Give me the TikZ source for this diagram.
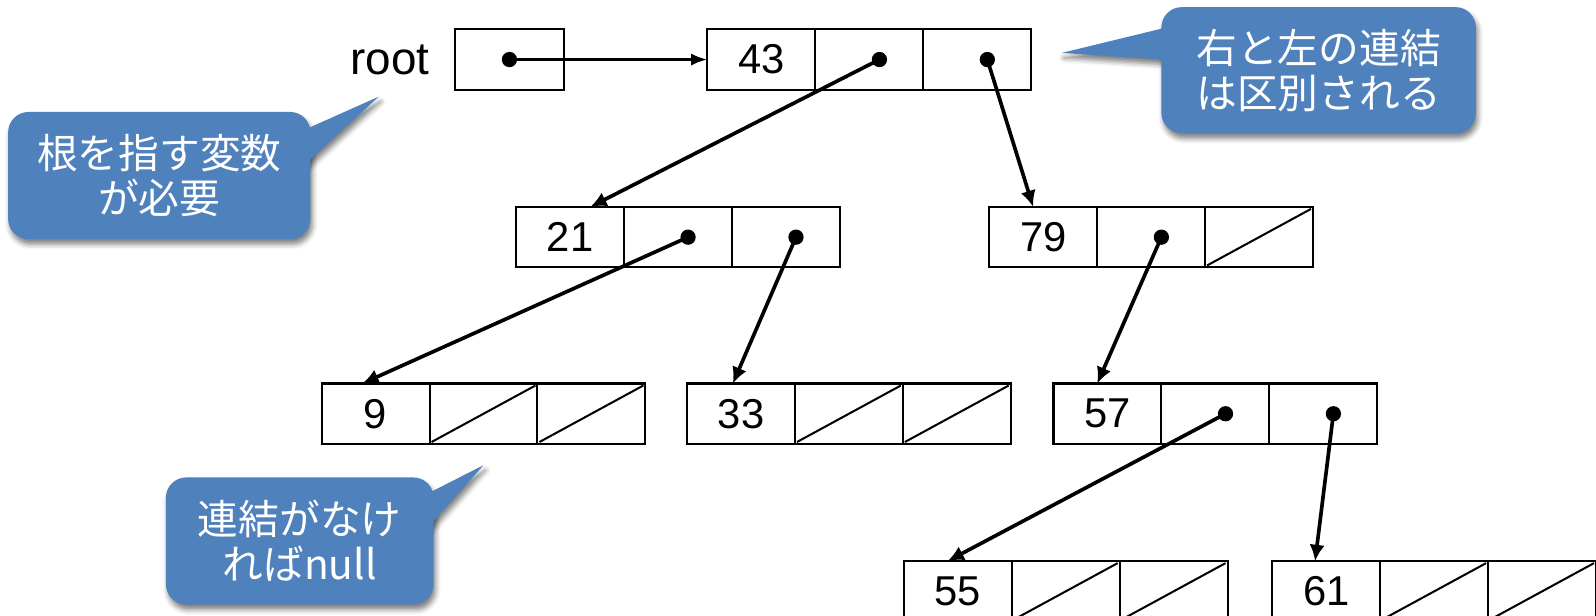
\documentclass[tikz,border=0pt]{standalone}
\usepackage{fontspec}
\setmainfont{Liberation Sans}
\newfontfamily\jpfont{Noto Sans CJK JP}
\usetikzlibrary{arrows.meta,shadows.blur}
\definecolor{callblue}{HTML}{4F81BD}
\tikzset{
  cell/.style={draw, line width=2pt, minimum width=106pt, minimum height=59.5pt,
    inner sep=0pt, outer sep=0pt, anchor=west, font=\fontsize{41}{45}\selectfont},
  arr/.style={line width=3.6pt, -{Latex[length=16pt,width=15pt]}},
  rootarr/.style={line width=3pt, -{Latex[length=16pt,width=12pt]}},
  nullline/.style={line width=2pt},
  cshadow/.style={blur shadow={shadow xshift=2pt, shadow yshift=-5pt, shadow blur radius=5pt, shadow opacity=50}},
  callout/.style={fill=callblue, rounded corners=20pt, text=white, align=center,
    inner sep=0pt, font=\jpfont\fontsize{40}{44}\selectfont},
}
\newcommand\mkrec[4]{%
  \node[cell] (#1v) at (#2,#3) {#4};
  \node[cell] (#1l) at (#1v.east) {};
  \node[cell] (#1r) at (#1l.east) {};
}
\newcommand\nullcell[1]{\draw[nullline] ([shift={(2,-2)}]#1.south west) -- ([shift={(-2,2)}]#1.north east);}
\newcommand\linkdot[1]{\coordinate (d-#1) at ([xshift=10pt]#1.center); \fill (d-#1) circle (7.5pt);}
\begin{document}
\begin{tikzpicture}[x=1pt,y=-1pt]
\useasboundingbox (0,0) rectangle (1568,605);
% root
\node[cell, minimum width=107pt] (rootbox) at (447,58.5) {};
\node[anchor=east, inner sep=0pt, font=\fontsize{45}{49}\selectfont] (rootlabel) at ([xshift=-25pt]rootbox.west) {root};
\coordinate (d-root) at (rootbox.center);
\fill (d-root) circle (7.5pt);
% records
\mkrec{n43}{695}{58.5}{43}
\mkrec{n21}{507}{233}{21}
\mkrec{n79}{972}{233}{79}
\mkrec{n9}{316}{406.5}{9}
\mkrec{n33}{675}{406.5}{33}
\mkrec{n57}{1035}{406.5}{57}
\mkrec{n55}{888}{581}{55}
\mkrec{n61}{1250}{581}{61}
% null links
\nullcell{n79r}
\nullcell{n9l}\nullcell{n9r}
\nullcell{n33l}\nullcell{n33r}
\nullcell{n55l}\nullcell{n55r}
\nullcell{n61l}\nullcell{n61r}
% link dots
\linkdot{n43l}\linkdot{n43r}
\linkdot{n21l}\linkdot{n21r}
\linkdot{n79l}
\linkdot{n57l}\linkdot{n57r}
% arrows
\draw[rootarr] (d-root) -- (n43v.west);
\draw[arr] (d-n43l) -- ([xshift=20pt]n21v.north);
\draw[arr] (d-n43r) -- ([xshift=-10pt]n79v.north);
\draw[arr] (d-n21l) -- ([xshift=-13pt]n9v.north);
\draw[arr] (d-n21r) -- ([xshift=-8pt]n33v.north);
\draw[arr] (d-n79l) -- ([xshift=-10pt]n57v.north);
\draw[arr] (d-n57l) -- ([xshift=-10pt]n55v.north);
\draw[arr] (d-n57r) -- ([xshift=-11pt]n61v.north);
% callout A
\path[cshadow] (372,95) -- (298,128) -- (298,163) -- cycle;
\node[callout, cshadow, minimum width=297pt, minimum height=125pt] (calloutA) at (156.5,172.5) {根を指す変数\\が必要};
\fill[callblue] (372,95) -- (298,128) -- (298,163) -- cycle;
% callout B
\path[cshadow] (1043,52) -- (1150,26) -- (1150,59) -- cycle;
\node[callout, cshadow, minimum width=309pt, minimum height=124pt] (calloutB) at (1295.5,69) {右と左の連結\\は区別される};
\fill[callblue] (1043,52) -- (1150,26) -- (1150,59) -- cycle;
% callout C
\path[cshadow] (475,457) -- (418,486) -- (418,521) -- cycle;
\node[callout, cshadow, minimum width=263pt, minimum height=125pt] (calloutC) at (294.5,531.5) {連結がなけ\\ればnull};
\fill[callblue] (475,457) -- (418,486) -- (418,521) -- cycle;
\end{tikzpicture}
\end{document}
